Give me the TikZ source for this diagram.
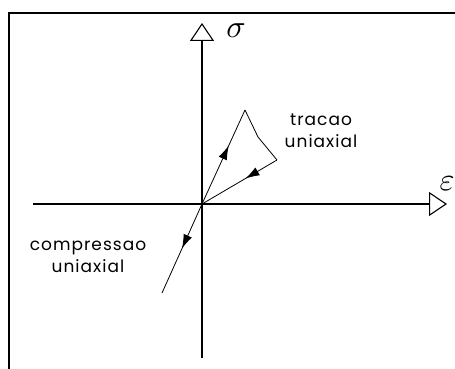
\documentclass[tikz,border=0pt]{standalone}
\usepackage{fontspec}
\newfontfamily\labelfont[LetterSpace=6]{Poppins}
\usetikzlibrary{arrows.meta,decorations.markings}

\tikzset{
  axis/.style={line width=1.1pt,-{Triangle[open,length=18pt,width=24pt,line width=1.1pt]}},
  load/.style={line width=.8pt},
  midarrow/.style={postaction={decorate},decoration={markings,
      mark=at position #1 with {\arrow{Latex[length=14pt,width=9pt]}}}},
  lbl/.style={font=\labelfont\fontsize{17}{22}\selectfont,align=center},
  greek/.style={inner sep=0pt,scale=3.2}
}

\begin{document}
\begin{tikzpicture}[x=1pt,y=-1pt]
\useasboundingbox (0,0) rectangle (455,369);
% frame
\draw[line width=1.5pt] (9,369)--(9,13)--(455,13);
% axes
\coordinate (O) at (202,204);
\coordinate (xl) at (33,204);
\coordinate (xr) at (447,204);
\coordinate (yb) at (202,358);
\coordinate (yt) at (202,23);
\draw[axis] (xl)--(xr);
\draw[axis] (yb)--(yt);
\node[greek] (sig) at (236,31) {$\sigma$};
\node[greek] (eps) at (447,184) {$\varepsilon$};
% tracao
\coordinate (peak) at (245,110);
\coordinate (knee) at (258,137);
\coordinate (unl) at (277,160);
\draw[load,midarrow=.62] (O)--(peak);
\draw[load] (peak)--(knee)--(unl);
\draw[load,midarrow=.42] (unl)--(O);
% compressao
\coordinate (cmp) at (162,293);
\draw[load,midarrow=.5] (O)--(cmp);
\node[lbl] (trac) at (321,131) {tracao\\uniaxial};
\node[lbl] (comp) at (88,257) {compressao\\uniaxial};
\end{tikzpicture}
\end{document}
